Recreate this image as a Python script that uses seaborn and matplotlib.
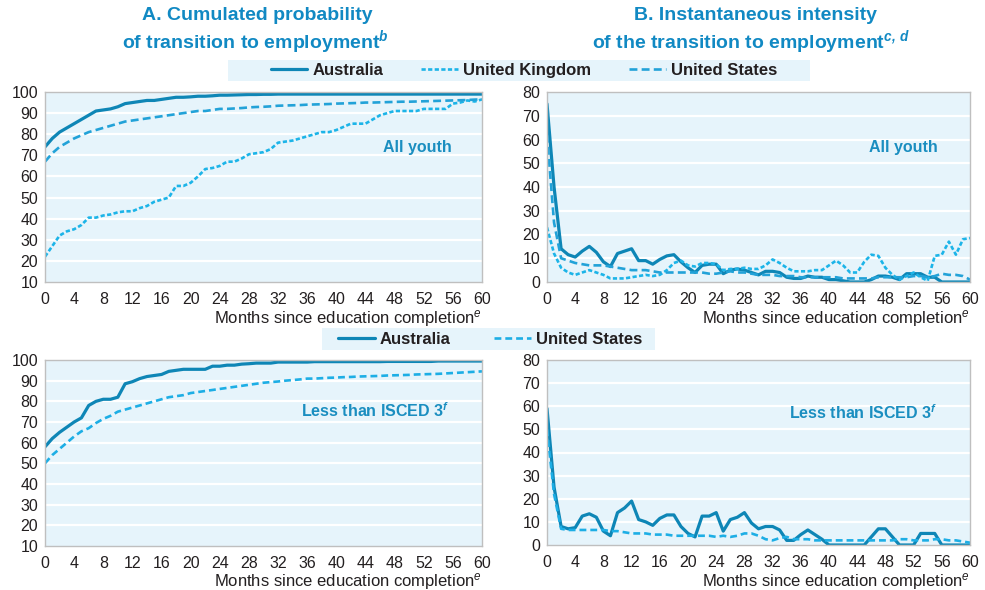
import numpy as np
import pandas as pd
import matplotlib
matplotlib.use("Agg")
import matplotlib.pyplot as plt
from matplotlib.lines import Line2D
import seaborn as sns

months = list(range(61))

# Panel A, all youth (cumulated probability, %)
aus_cum_all = [74, 78, 81, 83, 85, 87, 89, 91, 91.5, 92, 93, 94.5, 95, 95.5, 96, 96, 96.5, 97, 97.5, 97.5,
               97.7, 98, 98, 98.2, 98.5, 98.5, 98.6, 98.7, 98.8, 98.8, 98.9, 98.9, 99, 99, 99, 99, 99, 99, 99, 99,
               99, 99, 99, 99, 99, 99, 99, 99, 99, 99, 99, 99, 99, 99, 99, 99, 99, 99, 99, 99, 99]
uk_cum_all = [22, 27, 32, 34, 35, 37, 40.5, 40.5, 41.5, 42, 43, 43.5, 43.5, 45, 46, 48, 49, 50, 55.5, 55.5,
              57, 60, 63.5, 64, 65, 67, 67, 68.5, 70.5, 71, 71.5, 73, 76, 76.5, 77, 78, 79, 80, 81, 81,
              82, 83.5, 85, 85, 85, 87, 89, 90, 91, 91, 91, 91, 92, 92, 92, 92, 94.5, 95, 96, 95.5, 96.5]
us_cum_all = [67, 71, 74, 76, 78, 79.5, 81, 82, 83, 84, 85, 86, 86.5, 87, 87.5, 88, 88.5, 89, 89.5, 90,
              90.5, 91, 91, 91.5, 92, 92, 92.2, 92.4, 92.7, 92.9, 93, 93.2, 93.5, 93.6, 93.7, 93.8, 94, 94.1, 94.2, 94.3,
              94.5, 94.6, 94.7, 94.8, 95, 95, 95.1, 95.2, 95.3, 95.4, 95.4, 95.5, 95.6, 95.7, 95.8, 95.9, 96, 96.1, 96.2, 96.4, 96.5]

# Panel B, all youth (instantaneous intensity)
aus_int_all = [75, 40, 14, 11.5, 10.5, 13, 15, 12.5, 8.5, 6.5, 12, 13, 14, 9, 9, 7.5, 9.5, 11, 11.5, 8.5,
               6, 4, 7, 7.5, 7.5, 3.5, 5, 5.5, 5, 4, 3, 4.5, 4.5, 4, 2, 1.5, 1.5, 2.5, 2, 2,
               1, 1, 0.5, 0, 0, 0, 1, 2.5, 2.5, 2, 1, 3.5, 3.5, 3.5, 2, 2, 0, 0, 0, 0, 0]
uk_int_all = [23, 12, 6, 4, 3, 4, 5, 4, 3, 1.5, 1.5, 1.5, 2, 2.5, 3, 2.5, 3, 5, 8, 9,
              7, 6.5, 8, 8, 7.5, 5, 5.5, 5.5, 6, 5.5, 5.5, 7, 9.5, 8, 6, 4.5, 4.5, 4.5, 5, 5,
              7, 9, 7, 4, 4, 8.5, 11.5, 11, 6, 3, 1, 2.5, 4, 2, 0.5, 11, 11.5, 17, 11.5, 18, 18.5]
us_int_all = [62, 25, 10, 9, 8, 7.5, 7, 7, 7, 6.5, 6, 5.5, 5, 5, 5, 4.5, 4, 4, 4, 4,
              4, 4, 4, 3.5, 3.5, 4, 4.5, 4, 4, 3.5, 3, 3, 3, 2.5, 2.5, 2.5, 2, 2, 2, 2,
              2, 2, 1.5, 1.5, 1.5, 1.5, 1.5, 2, 2, 2, 2, 2, 2.5, 2.5, 2, 2.5, 3.5, 3, 3, 2.5, 1]

# Panel A, less than ISCED 3
aus_cum_low = [58, 62, 65, 67.5, 70, 72, 78, 80, 81, 81, 82, 88.5, 89.5, 91, 92, 92.5, 93, 94.5, 95, 95.5,
               95.5, 95.5, 95.5, 97, 97, 97.5, 97.5, 98, 98.2, 98.5, 98.5, 98.5, 99, 99, 99, 99, 99, 99.2, 99.2, 99.2,
               99.2, 99.2, 99.2, 99.2, 99.2, 99.2, 99.2, 99.3, 99.3, 99.3, 99.3, 99.3, 99.3, 99.3, 99.5, 99.5, 99.5, 99.5, 99.5, 99.5, 99.5]
us_cum_low = [50, 54, 57, 60, 63, 65.5, 67, 69.5, 71.5, 73, 75, 76, 77, 78, 79, 80, 81, 82, 82.5, 83,
              84, 84.5, 85, 85.5, 86, 86.5, 87, 87.5, 88, 88.5, 89, 89.3, 89.6, 90, 90.3, 90.6, 91, 91, 91.2, 91.4,
              91.5, 91.7, 91.8, 92, 92.1, 92.2, 92.3, 92.5, 92.6, 92.7, 92.8, 93, 93.1, 93.2, 93.3, 93.5, 93.7, 93.9, 94.1, 94.3, 94.5]

# Panel B, less than ISCED 3
aus_int_low = [59, 25, 8, 7, 7.5, 12.5, 13.5, 12, 6, 4, 14, 16, 19, 11, 10, 8.5, 11.5, 13, 13, 8,
               5, 3.5, 12.5, 12.5, 14, 6, 11, 12, 14, 9.5, 7, 8, 8, 6.5, 2, 2, 4.5, 6.5, 4.5, 2.5,
               0, 0, 0, 0, 0, 0, 3.5, 7, 7, 3.5, 0, 0, 0, 5, 5, 5, 0, 0, 0, 0, 0]
us_int_low = [50, 22, 7, 6.5, 6.5, 6.5, 6.5, 6.5, 6.5, 6, 6, 5.5, 5, 5, 5, 4.5, 4.5, 4.5, 4, 4,
              4, 4, 4, 4, 3.5, 4, 3.5, 4, 5, 5, 4, 2.5, 2, 3, 3.5, 2.5, 2.5, 2.5, 2, 2,
              2, 2, 2, 2, 2, 2, 2, 2, 2, 2, 2.5, 2.5, 2, 2, 2, 2.5, 2.5, 2, 2, 1.5, 1]

x_ticks = list(range(0, 61, 4))
cum_ticks = list(range(10, 101, 10))
int_ticks = list(range(0, 81, 10))

sns.set_theme(style="white")
plt.rcParams['font.family'] = ['Liberation Sans', 'DejaVu Sans']
plt.rcParams['mathtext.fontset'] = 'custom'
plt.rcParams['mathtext.rm'] = 'Liberation Sans'
plt.rcParams['mathtext.it'] = 'Liberation Sans:italic'
plt.rcParams['mathtext.bf'] = 'Liberation Sans:bold'
plt.rcParams['mathtext.bfit'] = 'Liberation Sans:italic:bold'

C_AUS = '#0E86B6'
C_UK = '#1CB4E8'
C_US = '#22A2D8'
C_US2 = '#1DAEE5'
BG = '#E6F4FB'
TITLE_C = '#1189C3'
TXT = '#231F20'

fig = plt.figure(figsize=(9.85, 5.9), dpi=100)
W, H = 985.0, 590.0

def make_ax(x0, y0, x1, y1):
    return fig.add_axes([x0 / W, 1 - y1 / H, (x1 - x0) / W, (y1 - y0) / H])

ax_tl = make_ax(45, 92, 482, 282)
ax_tr = make_ax(547, 92, 970, 282)
ax_bl = make_ax(45, 360, 482, 546)
ax_br = make_ax(547, 360, 970, 545)

STY_AUS = dict(color=C_AUS, lw=2.3, dashes=None)
STY_UK = dict(color=C_UK, lw=1.9, dashes=(1.6, 0.9))
STY_US = dict(color=C_US, lw=1.9, dashes=(3.0, 1.6))
STY_US2 = dict(color=C_US2, lw=1.9, dashes=(2.6, 1.5))

def draw(ax, y, sty):
    sns.lineplot(x=months, y=y, ax=ax, color=sty['color'], linewidth=sty['lw'])
    ln = ax.lines[-1]
    if sty['dashes'] is not None:
        ln.set_dashes(sty['dashes'])
        ln.set_dash_capstyle('butt')
    ln.set_solid_joinstyle('round')

def style_ax(ax, yticks, ylim, label_y):
    ax.set_facecolor(BG)
    ax.set_xlim(0, 60)
    ax.set_ylim(*ylim)
    ax.set_xticks(x_ticks)
    ax.set_yticks(yticks)
    ax.grid(False)
    for t in yticks:
        if t != ylim[0] and t != ylim[1]:
            ax.axhline(t, color='white', lw=1.6, zorder=0.5)
    for s in ax.spines.values():
        s.set_color('#BFBFBF')
        s.set_linewidth(1.0)
    ax.tick_params(axis='x', direction='in', length=4, color='#BFBFBF', labelsize=11.5,
                   labelcolor=TXT, pad=7)
    ax.tick_params(axis='y', length=0, labelsize=11.5, labelcolor=TXT, pad=5)
    ax.set_xlabel('Months since education completion$^{\\mathit{e}}$', fontsize=12,
                  color=TXT)
    ax.xaxis.set_label_coords(1.0, label_y)
    ax.xaxis.label.set_ha('right')
    ax.xaxis.label.set_va('center')
    ax.set_ylabel('')

draw(ax_tl, aus_cum_all, STY_AUS)
draw(ax_tl, uk_cum_all, STY_UK)
draw(ax_tl, us_cum_all, STY_US)
style_ax(ax_tl, cum_ticks, (10, 100), -0.19)

draw(ax_tr, aus_int_all, STY_AUS)
draw(ax_tr, uk_int_all, STY_UK)
draw(ax_tr, us_int_all, STY_US)
style_ax(ax_tr, int_ticks, (0, 80), -0.19)

draw(ax_bl, aus_cum_low, STY_AUS)
draw(ax_bl, us_cum_low, STY_US2)
style_ax(ax_bl, cum_ticks, (10, 100), -0.19)

draw(ax_br, aus_int_low, STY_AUS)
draw(ax_br, us_int_low, STY_US2)
style_ax(ax_br, int_ticks, (0, 80), -0.195)

# Panel labels
lab_kw = dict(fontsize=11.5, fontweight='bold', color='#1A8EC0')
ax_tl.text(0.853, 0.71, 'All youth', transform=ax_tl.transAxes, ha='center', va='center', **lab_kw)
ax_tr.text(0.842, 0.71, 'All youth', transform=ax_tr.transAxes, ha='center', va='center', **lab_kw)
ax_bl.text(0.755, 0.73, 'Less than ISCED 3$^{\\mathbfit{f}}$', transform=ax_bl.transAxes,
           ha='center', va='center', **lab_kw)
ax_br.text(0.747, 0.713, 'Less than ISCED 3$^{\\mathbfit{f}}$', transform=ax_br.transAxes,
           ha='center', va='center', **lab_kw)

# Titles
title_kw = dict(fontsize=14, fontweight='bold', color=TITLE_C, ha='center', va='center')
fig.text(257 / W, 1 - 15 / H, 'A. Cumulated probability', **title_kw)
fig.text(255 / W, 1 - 42 / H, 'of transition to employment$^{\\mathbfit{b}}$', **title_kw)
fig.text(755 / W, 1 - 15 / H, 'B. Instantaneous intensity', **title_kw)
fig.text(751 / W, 1 - 42 / H, 'of the transition to employment$^{\\mathbfit{c,\\,d}}$', **title_kw)

# Legends
leg_prop = dict(weight='bold', size=12)
h_aus = Line2D([], [], color=C_AUS, lw=2.3)
h_uk = Line2D([], [], color=C_UK, lw=1.9, dashes=(1.6, 0.9))
h_us = Line2D([], [], color=C_US, lw=1.9, dashes=(3.0, 1.6))
h_us2 = Line2D([], [], color=C_US2, lw=1.9, dashes=(2.6, 1.5))

fig.patches.append(plt.Rectangle((228 / W, 1 - 81 / H), (810 - 228) / W, 21 / H,
                                 transform=fig.transFigure, facecolor=BG, edgecolor='none', zorder=0))
leg1 = fig.legend([h_aus, h_uk, h_us], ['Australia', 'United Kingdom', 'United States'],
                  loc='center', bbox_to_anchor=(524 / W, 1 - 70.5 / H),
                  ncol=3, frameon=False, prop=leg_prop, handlelength=2.2,
                  handletextpad=0.3, columnspacing=2.3, borderpad=0.1, borderaxespad=0)
for t in leg1.get_texts():
    t.set_color(TXT)

fig.patches.append(plt.Rectangle((322 / W, 1 - 350 / H), (655 - 322) / W, 22 / H,
                                 transform=fig.transFigure, facecolor=BG, edgecolor='none', zorder=0))
leg2 = fig.legend([h_aus, h_us2], ['Australia', 'United States'],
                  loc='center', bbox_to_anchor=(490 / W, 1 - 339 / H),
                  ncol=2, frameon=False, prop=leg_prop, handlelength=2.2,
                  handletextpad=0.3, columnspacing=2.6, borderpad=0.1, borderaxespad=0)
for t in leg2.get_texts():
    t.set_color(TXT)

fig.savefig('out.png', dpi=100, facecolor='white')
